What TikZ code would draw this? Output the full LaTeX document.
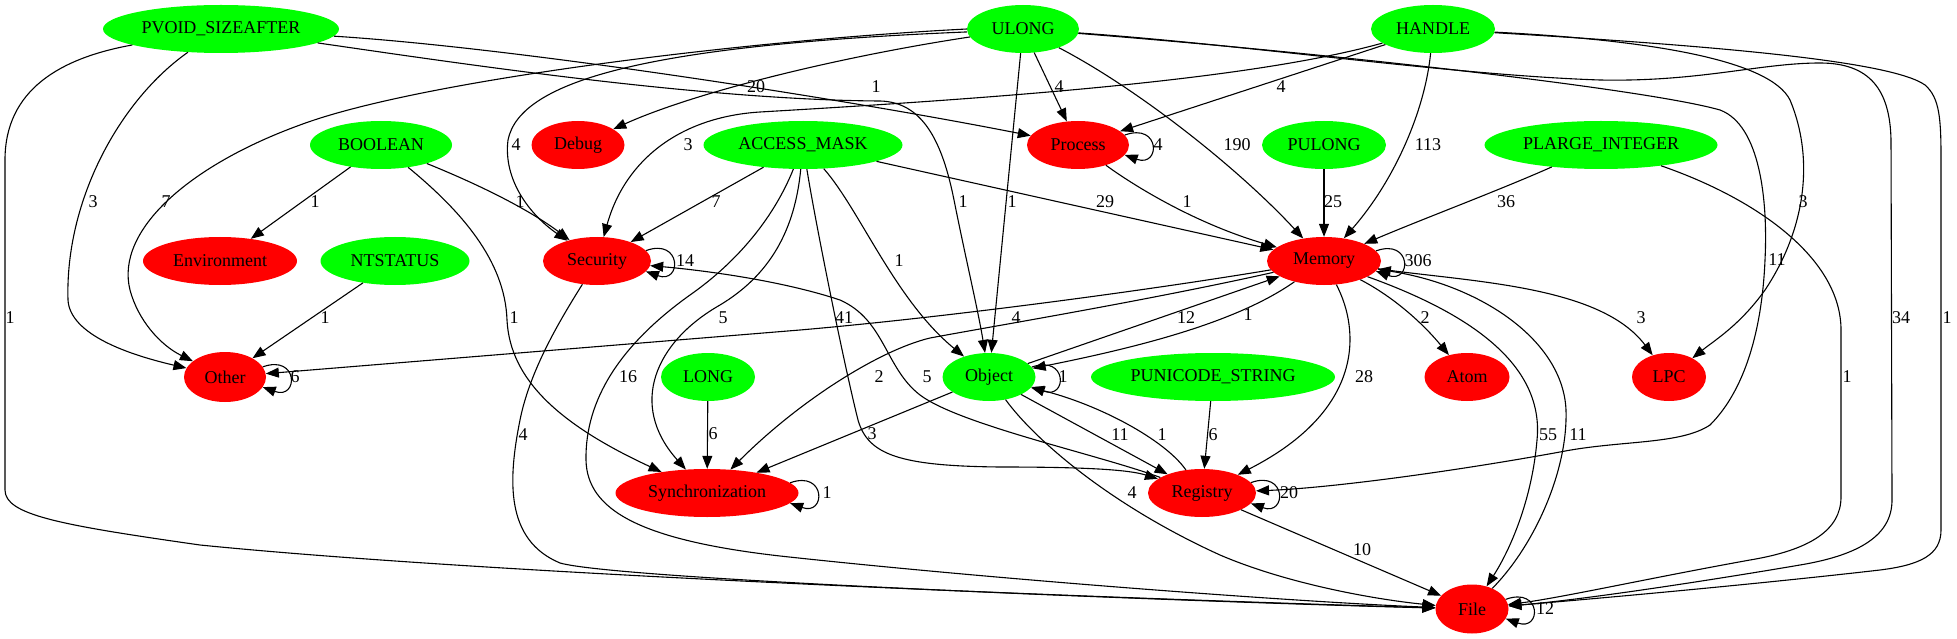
\documentclass[tikz,border=0pt]{standalone}
\usepackage{fontspec}
\setmainfont{Liberation Serif}
\usetikzlibrary{shapes.geometric,arrows.meta}
\definecolor{typegreen}{RGB}{0,255,0}
\definecolor{groupred}{RGB}{255,0,0}

\begin{document}
\begin{tikzpicture}[
        x=1pt, y=-1pt,
        every node/.style={font=\fontsize{18}{20}\selectfont},
        typenode/.style={ellipse, fill=typegreen, minimum height=48pt, inner sep=0pt},
        groupnode/.style={ellipse, fill=groupred, minimum height=48pt, inner sep=0pt},
        lbl/.style={inner sep=0pt},
        link/.style={draw, line width=1.1pt, -{Triangle[length=13pt,width=10pt]}},
    ]
    \useasboundingbox (0,0) rectangle (1957,639);
    \node[typenode, minimum width=236pt] (pvoid) at (221,29) {PVOID\_SIZEAFTER};
    \node[typenode, minimum width=112pt] (ulong) at (1023,29) {ULONG};
    \node[typenode, minimum width=124pt] (handle) at (1433,29) {HANDLE};
    \node[typenode, minimum width=142pt] (boolean) at (381,145) {BOOLEAN};
    \node[groupnode, minimum width=93pt] (debug) at (578,145) {Debug};
    \node[typenode, minimum width=199pt] (amask) at (803,145) {ACCESS\_MASK};
    \node[groupnode, minimum width=102pt] (process) at (1078,145) {Process};
    \node[typenode, minimum width=124pt] (pulong) at (1324,145) {PULONG};
    \node[typenode, minimum width=233pt] (plarge) at (1601,145) {PLARGE\_INTEGER};
    \node[groupnode, minimum width=154pt] (environment) at (220,261) {Environment};
    \node[typenode, minimum width=149pt] (ntstatus) at (395,261) {NTSTATUS};
    \node[groupnode, minimum width=108pt] (security) at (597,261) {Security};
    \node[groupnode, minimum width=114pt] (memory) at (1324,261) {Memory};
    \node[groupnode, minimum width=82pt, minimum height=50pt] (other) at (225,377) {Other};
    \node[typenode, minimum width=94pt] (long) at (708,377) {LONG};
    \node[typenode, minimum width=93pt] (object) at (989,377) {Object};
    \node[typenode, minimum width=244pt] (punicode) at (1213,377) {PUNICODE\_STRING};
    \node[groupnode, minimum width=85pt] (atom) at (1467,377) {Atom};
    \node[groupnode, minimum width=74pt] (lpc) at (1669,377) {LPC};
    \node[groupnode, minimum width=183pt] (sync) at (707,493) {Synchronization};
    \node[groupnode, minimum width=108pt] (registry) at (1202,493) {Registry};
    \node[groupnode, minimum width=73pt, minimum height=49pt] (file) at (1472,609) {File};

    \draw[link] (pvoid) .. controls (60,58) and (5,90) .. (5,160) -- (5,490) .. controls (5,515) and (60,525) .. (200,545) .. controls (500,575) and (1100,598) .. (file) node[lbl] (pvoid-file) at (10,318) {1};
    \draw[link] (pvoid) .. controls (120,100) and (65,200) .. (68,300) .. controls (70,335) and (130,355) .. (other) node[lbl] (pvoid-other) at (93,202) {3};
    \draw[link] (pvoid) .. controls (520,48) and (850,100) .. (process) node[lbl] (pvoid-process) at (876,87) {1};
    \draw[link] (pvoid) .. controls (450,62) and (700,100) .. (880,101) .. controls (922,102) and (942,140) .. (954,200) .. controls (966,260) and (978,310) .. (object) node[lbl] (pvoid-object) at (963,202) {1};
    \draw[link] (ulong.180) .. controls (750,40) and (420,80) .. (300,125) .. controls (190,165) and (115,230) .. (130,290) .. controls (138,320) and (160,345) .. (other) node[lbl] (ulong-other) at (166,202) {7};
    \draw[link] (ulong.183) .. controls (650,45) and (520,80) .. (508,140) .. controls (503,180) and (530,215) .. (security) node[lbl] (ulong-security) at (516,145) {4};
    \draw[link] (ulong) .. controls (850,55) and (700,90) .. (debug) node[lbl] (ulong-debug) at (756,87) {20};
    \draw[link] (ulong) -- (process) node[lbl] (ulong-process) at (1059,87) {4};
    \draw[link] (ulong) -- (object) node[lbl] (ulong-object) at (1012,202) {1};
    \draw[link] (ulong) .. controls (1140,90) and (1240,170) .. (memory) node[lbl] (ulong-memory) at (1237,145) {190};
    \draw[link] (ulong) .. controls (1350,55) and (1650,90) .. (1720,110) .. controls (1760,125) and (1768,200) .. (1765,260) .. controls (1762,330) and (1745,390) .. (1710,425) .. controls (1680,445) and (1620,440) .. (1560,452) .. controls (1450,472) and (1330,488) .. (registry) node[lbl] (ulong-registry) at (1777,260) {11};
    \draw[link] (ulong) .. controls (1250,45) and (1450,75) .. (1600,80) .. controls (1700,82) and (1760,63) .. (1820,63) .. controls (1870,63) and (1890,90) .. (1891,140) -- (1892,500) .. controls (1892,535) and (1860,555) .. (1800,565) .. controls (1700,582) and (1580,600) .. (file) node[lbl] (ulong-file) at (1901,318) {34};
    \draw[link] (handle) -- (process) node[lbl] (handle-process) at (1281,87) {4};
    \draw[link] (handle) .. controls (1250,80) and (1000,98) .. (760,112) .. controls (680,117) and (625,160) .. (security) node[lbl] (handle-security) at (688,145) {3};
    \draw[link] (handle) .. controls (1425,110) and (1395,180) .. (memory) node[lbl] (handle-memory) at (1428,145) {113};
    \draw[link] (handle) .. controls (1650,40) and (1770,60) .. (1790,100) .. controls (1815,160) and (1805,230) .. (1765,290) .. controls (1740,325) and (1715,340) .. (lpc) node[lbl] (handle-lpc) at (1803,202) {3};
    \draw[link] (handle) .. controls (1700,45) and (1890,60) .. (1925,85) .. controls (1940,98) and (1941,120) .. (1941,160) -- (1941,530) .. controls (1941,555) and (1920,565) .. (1880,570) .. controls (1750,585) and (1580,600) .. (file) node[lbl] (handle-file) at (1947,318) {1};
    \draw[link] (plarge) .. controls (1500,190) and (1420,220) .. (memory) node[lbl] (plarge-memory) at (1506,202) {36};
    \draw[link] (plarge) .. controls (1760,200) and (1841,260) .. (1841,330) -- (1841,497) .. controls (1841,530) and (1810,550) .. (1750,560) .. controls (1650,578) and (1560,598) .. (file) node[lbl] (plarge-file) at (1847,377) {1};
    \draw[link] (pulong) -- (memory) node[lbl] (pulong-memory) at (1333,202) {25};
    \draw[link] (boolean) -- (environment) node[lbl] (boolean-environment) at (315,202) {1};
    \draw[link] (boolean) .. controls (480,185) and (530,210) .. (security) node[lbl] (boolean-security) at (520,202) {1};
    \draw[link] (boolean) .. controls (460,210) and (505,260) .. (507,320) .. controls (510,380) and (560,425) .. (sync) node[lbl] (boolean-sync) at (514,318) {1};
    \draw[link] (ntstatus) -- (other) node[lbl] (ntstatus-other) at (325,318) {1};
    \draw[link] (amask) -- (security) node[lbl] (amask-security) at (716,202) {7};
    \draw[link] (amask) -- (memory) node[lbl] (amask-memory) at (1105,202) {29};
    \draw[link] (amask) .. controls (860,210) and (895,300) .. (object) node[lbl] (amask-object) at (899,261) {1};
    \draw[link] (amask) .. controls (795,230) and (770,275) .. (720,305) .. controls (655,342) and (628,405) .. (sync) node[lbl] (amask-sync) at (723,318) {5};
    \draw[link] (amask) .. controls (775,215) and (740,260) .. (690,295) .. controls (620,345) and (585,400) .. (586,460) .. controls (587,510) and (640,540) .. (780,556) .. controls (1000,580) and (1300,602) .. (file) node[lbl] (amask-file) at (628,377) {16};
    \draw[link] (amask) .. controls (815,220) and (843,360) .. (858,420) .. controls (868,455) and (900,466) .. (1000,467) .. controls (1090,467) and (1130,470) .. (registry) node[lbl] (amask-registry) at (844,318) {41};
    \draw[link] (process) .. controls (1140,190) and (1200,225) .. (memory) node[lbl] (process-memory) at (1187,202) {1};
    \draw[link] (security) .. controls (560,320) and (530,370) .. (520,420) .. controls (508,480) and (505,540) .. (560,563) .. controls (620,580) and (1200,602) .. (file) node[lbl] (security-file) at (523,435) {4};
    \draw[link] (registry) .. controls (1100,455) and (960,425) .. (920,395) .. controls (885,368) and (885,320) .. (840,300) .. controls (780,280) and (700,270) .. (security) node[lbl] (registry-security) at (927,377) {5};
    \draw[link] (memory) .. controls (1150,290) and (950,317) .. (800,330) -- (other) node[lbl] (memory-other) at (1016,318) {4};
    \draw[link] (memory) .. controls (1150,300) and (1000,325) .. (930,338) .. controls (880,350) and (800,400) .. (sync) node[lbl] (memory-sync) at (879,377) {2};
    \draw[link] (object) -- (memory) node[lbl] (object-memory) at (1186,318) {12};
    \draw[link] (memory) .. controls (1240,320) and (1150,345) .. (object) node[lbl] (memory-object) at (1248,315) {1};
    \draw[link] (memory) .. controls (1390,295) and (1420,320) .. (atom) node[lbl] (memory-atom) at (1425,318) {2};
    \draw[link] (memory) .. controls (1470,282) and (1600,285) .. (lpc) node[lbl] (memory-lpc) at (1641,318) {3};
    \draw[link] (memory) .. controls (1360,330) and (1365,410) .. (registry) node[lbl] (memory-registry) at (1364,377) {28};
    \draw[link] (memory) .. controls (1460,310) and (1545,360) .. (1537,440) .. controls (1532,500) and (1510,550) .. (file) node[lbl] (memory-file) at (1548,435) {55};
    \draw[link] (file) .. controls (1535,545) and (1568,470) .. (1566,410) .. controls (1563,340) and (1480,285) .. (memory) node[lbl] (file-memory) at (1578,435) {11};
    \draw[link] (object) -- (sync) node[lbl] (object-sync) at (872,434) {3};
    \draw[link] (long) -- (sync) node[lbl] (long-sync) at (713,434) {6};
    \draw[link] (object) -- (registry) node[lbl] (object-registry) at (1120,435) {11};
    \draw[link] (registry) .. controls (1165,440) and (1100,405) .. (object) node[lbl] (registry-object) at (1162,435) {1};
    \draw[link] (punicode) -- (registry) node[lbl] (punicode-registry) at (1213,435) {6};
    \draw[link] (object) .. controls (1035,440) and (1110,505) .. (1220,555) .. controls (1290,585) and (1380,600) .. (file) node[lbl] (object-file) at (1132,493) {4};
    \draw[link] (registry) -- (file) node[lbl] (registry-file) at (1362,550) {10};

    \draw[link] (process.12) .. controls +(36,-13) and +(36,13) .. (process.-12) node[lbl] (process-loop) at (1158,145) {4};
    \draw[link] (security.12) .. controls +(36,-13) and +(36,13) .. (security.-12) node[lbl] (security-loop) at (685,261) {14};
    \draw[link] (memory.11) .. controls +(36,-13) and +(36,13) .. (memory.-11) node[lbl] (memory-loop) at (1418,261) {306};
    \draw[link] (other.15) .. controls +(36,-13) and +(36,13) .. (other.-15) node[lbl] (other-loop) at (295,377) {6};
    \draw[link] (object.13) .. controls +(36,-13) and +(36,13) .. (object.-13) node[lbl] (object-loop) at (1063,377) {1};
    \draw[link] (sync.7) .. controls +(36,-13) and +(36,13) .. (sync.-7) node[lbl] (sync-loop) at (827,493) {1};
    \draw[link] (registry.12) .. controls +(36,-13) and +(36,13) .. (registry.-12) node[lbl] (registry-loop) at (1289,493) {20};
    \draw[link] (file.16) .. controls +(36,-13) and +(36,13) .. (file.-16) node[lbl] (file-loop) at (1545,609) {12};
\end{tikzpicture}
\end{document}
